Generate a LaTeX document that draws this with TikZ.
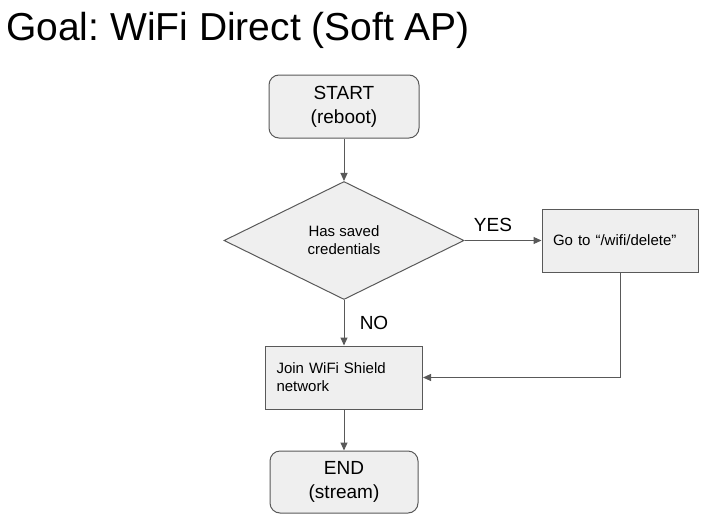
\documentclass[tikz,border=0pt]{standalone}
\usepackage{fontspec}
\setmainfont{Liberation Sans}
\usetikzlibrary{shapes.geometric, arrows.meta}
\frenchspacing
\definecolor{LineGray}{HTML}{595959}
\definecolor{BoxFill}{HTML}{EFEFEF}
\newcommand{\BoxWidth}{156pt}
\newcommand{\BoxHeight}{63pt}
\tikzset{Box/.style={
		rectangle,
		draw=LineGray,
		fill=BoxFill,
		line width=1pt,
		minimum width=\BoxWidth,
		minimum height=\BoxHeight,
		inner sep=0pt,
	},
	RoundBox/.style={
		Box,
		rounded corners=10pt,
		align=center,
		font=\fontsize{19}{24}\selectfont,
	},
	TextBox/.style={
		Box,
		text width=134pt,
		align=left,
		font=\fontsize{15}{18}\selectfont,
	},
	Decision/.style={
		diamond,
		draw=LineGray,
		fill=BoxFill,
		line width=1pt,
		minimum width=240pt,
		minimum height=118pt,
		inner sep=0pt,
		align=center,
		font=\fontsize{15}{18}\selectfont,
	},
	Arrow/.style={
		draw=LineGray,
		line width=1pt,
		-{Triangle[length=8pt,width=7pt]},
	},
	Answer/.style={
		font=\fontsize{19}{22}\selectfont,
		inner sep=0pt,
	}
}

\begin{document}
\begin{tikzpicture}[x=1pt, y=-1pt]
		\useasboundingbox (0,0) rectangle (719,530);
		\node [anchor=base west, inner sep=0pt, font=\fontsize{39}{44}\selectfont] (title) at (6,40) {Goal: WiFi Direct (Soft AP)};
		% the flow, top to bottom
		\node [RoundBox, minimum width=150pt] (start) at (344,106.5) {START\\(reboot)};
		\node [Decision] (cred) at (344,240.5) {Has saved\\credentials};
		\node [TextBox] (delete) at (620,240.5) {Go to “/wifi/delete”};
		\node [TextBox, minimum width=157pt, text width=135pt] (join) at (344,377.5) {Join WiFi Shield\\network};
		\node [RoundBox, minimum width=148pt, minimum height=62pt] (end) at (344,482) {END\\(stream)};
		\node [Answer] (yes) at (493,225) {YES};
		\node [Answer] (no) at (374,323) {NO};
		\draw [Arrow] (start) -- (cred);
		\draw [Arrow] (cred.east) -- (delete.west);
		\draw [Arrow] (cred.south) -- (join.north);
		\draw [Arrow] (delete.south) |- (join.east); % back into the join box
		\draw [Arrow] (join) -- (end);
	\end{tikzpicture}
\end{document}
